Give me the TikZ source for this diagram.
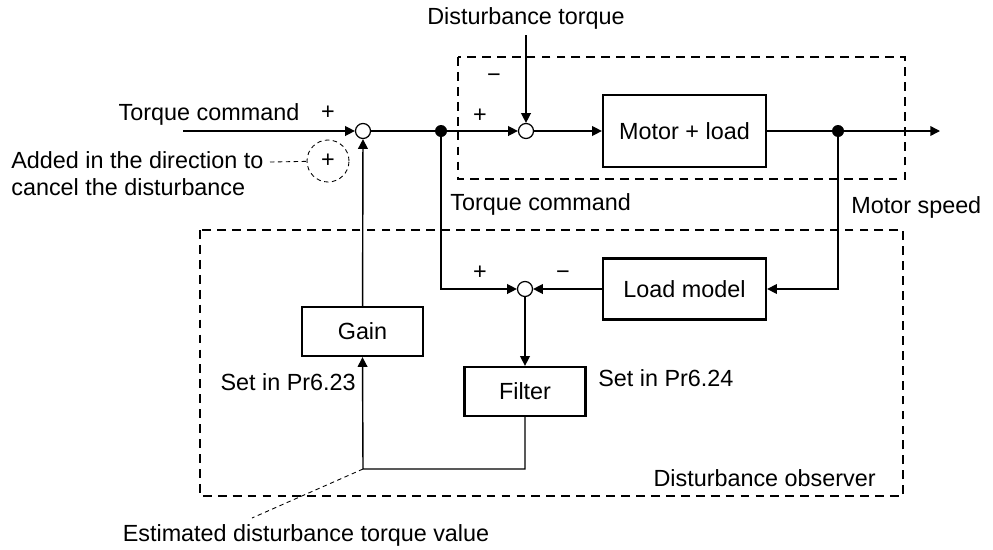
\documentclass[tikz,border=0pt]{standalone}
\usepackage{fontspec}
\setmainfont{Liberation Sans}
\usetikzlibrary{arrows.meta,positioning,calc}

\begin{document}
\begin{tikzpicture}[
  x=0.2mm, y=-0.2mm,
  font=\fontsize{13.3}{15.4}\selectfont,
  box/.style={draw, line width=1.3pt, minimum width=32.6mm, minimum height=12.2mm, inner sep=0pt},
  smallbox/.style={box, minimum width=24.2mm, minimum height=9.8mm},
  sumnode/.style={draw, circle, fill=white, line width=0.7pt, minimum size=3mm, inner sep=0pt},
  dot/.style={circle, fill, minimum size=2.4mm, inner sep=0pt},
  arrow/.style={-{Triangle[length=5.5pt,width=5.5pt]}, line width=0.8pt},
  line/.style={line width=0.8pt},
  frame/.style={line width=1.3pt, dash pattern=on 5pt off 3.5pt},
  leader/.style={line width=0.5pt, dash pattern=on 2.5pt off 2pt},
  lbl/.style={inner sep=0pt}
]
\useasboundingbox (0,0) rectangle (993,549);

% forward path
\node[sumnode] (sum1) at (363,131) {};
\node[dot] (split) at (441,131) {};
\node[sumnode] (sum2) at (526,131) {};
\node[box, minimum height=14.4mm] (motor) at (684.5,131) {Motor + load};
\node[dot] (speed) at (838,131) {};
\coordinate (cmd) at (183,131);
\coordinate (out) at (940,131);
\coordinate (dist) at (526,35);

% observer
\node[box] (load) at (684.5,289) {Load model};
\node[sumnode] (sum3) at (525,289) {};
\node[smallbox] (gain) at (362.5,331.5) {Gain};
\node[smallbox] (filter) at (525,391.5) {Filter};
\coordinate (est) at (363,469);
\coordinate (estend) at (252,518);

% dashed frames
\draw[frame] (458,57) rectangle (905,179);
\draw[frame] (200,230) rectangle (903,496);

% connectors
\draw[arrow] (cmd) -- (sum1);
\draw[line] (sum1) -- (split);
\draw[arrow] (split) -- (sum2);
\draw[arrow] (dist) -- (sum2);
\draw[arrow] (sum2) -- (motor);
\draw[line] (motor) -- (speed);
\draw[arrow] (speed) -- (out);
\draw[arrow] (speed.south) |- (load.east);
\draw[arrow] (split.south) |- (sum3);
\draw[arrow] (load) -- (sum3);
\draw[arrow] (sum3) -- (filter);
\draw[arrow] (filter.south) |- (est) -- (gain.south);
\draw[arrow] (gain) -- (sum1);

% sign hint
\node[draw, circle, leader, minimum size=8.4mm, inner sep=0pt] (hint) at (328,161) {+};
\coordinate (hintend) at (270,162);
\draw[leader] (hintend) -- (hint);
\draw[leader] (est) -- (estend);

% labels
\node[lbl] (cmdlbl) at (209,114) {Torque command};
\node[lbl] (plus1) at (328,113) {+};
\node[lbl, align=left, anchor=west] (hintlbl) at (11,173.5) {Added in the direction to\\cancel the disturbance};
\node[lbl] (distlbl) at (526,18) {Disturbance torque};
\node[lbl] (minus2) at (494,78) {−};
\node[lbl] (plus2) at (480,116) {+};
\node[lbl, anchor=west] (cmdlbl2) at (450,204) {Torque command};
\node[lbl, anchor=west] (speedlbl) at (851,207) {Motor speed};
\node[lbl] (plus3) at (480,273) {+};
\node[lbl] (minus3) at (563,275) {−};
\node[lbl, anchor=east] (gainlbl) at (356,382) {Set in Pr6.23};
\node[lbl, anchor=west] (filterlbl) at (598,378) {Set in Pr6.24};
\node[lbl, anchor=east] (obslbl) at (876,478) {Disturbance observer};
\node[lbl] (estlbl) at (306,535) {Estimated disturbance torque value};
\end{tikzpicture}
\end{document}
